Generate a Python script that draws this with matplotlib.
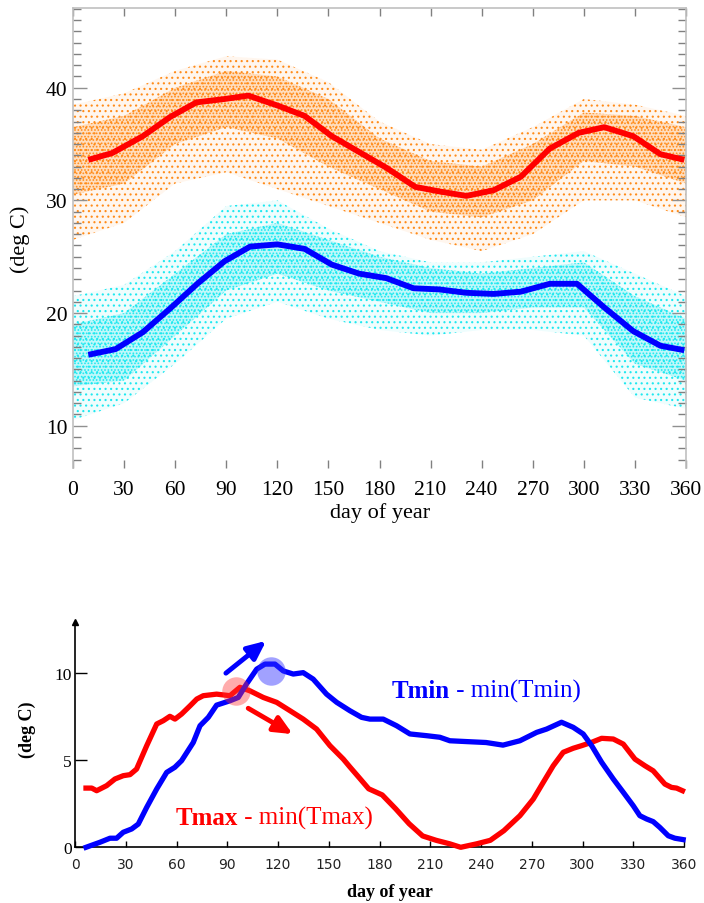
import matplotlib
matplotlib.use("Agg")
import matplotlib.pyplot as plt
from matplotlib.ticker import MultipleLocator

plt.rcParams['font.family'] = ['Liberation Serif', 'DejaVu Serif']
plt.rcParams['hatch.linewidth'] = 0.8

# ---------------- top panel data ----------------
tmax_days = [9, 23, 41, 57, 72.5, 89, 103, 120.5, 136, 152, 168, 184, 201, 215, 231,
             247, 263, 280, 297, 312, 329, 345, 359]
tmax_mean = [33.6, 34.2, 35.7, 37.4, 38.7, 39.0, 39.3, 38.4, 37.5, 35.7, 34.3, 32.9,
             31.2, 30.8, 30.4, 30.9, 32.1, 34.6, 36.0, 36.5, 35.7, 34.1, 33.6]

tmin_days = [9, 25, 41, 57, 73, 89, 104, 120, 136, 152, 168, 184, 200, 215, 231,
             247, 263, 280, 296, 312, 329, 345, 359]
tmin_mean = [16.3, 16.8, 18.3, 20.4, 22.6, 24.6, 25.9, 26.1, 25.7, 24.3, 23.5, 23.1,
             22.2, 22.1, 21.8, 21.7, 21.9, 22.6, 22.6, 20.5, 18.4, 17.1, 16.7]

# envelopes of the daily scatter clouds
env_days = [0, 30, 60, 90, 120, 150, 180, 210, 240, 270, 300, 330, 360]
tmax_hi_outer = [38.5, 39.5, 41.5, 42.8, 42.5, 40.5, 37.0, 35.0, 34.5, 36.5, 39.0, 38.5, 37.5]
tmax_lo_outer = [26.5, 28.0, 31.5, 32.5, 31.0, 29.5, 28.0, 26.5, 25.5, 27.0, 30.0, 30.0, 28.5]
tmax_hi_core = [36.5, 37.5, 40.0, 41.5, 41.0, 39.0, 35.5, 33.5, 33.0, 35.0, 37.8, 37.5, 36.5]
tmax_lo_core = [30.5, 31.5, 35.0, 36.5, 35.5, 33.0, 31.0, 29.0, 28.5, 30.0, 33.5, 33.0, 31.5]
tmin_hi_outer = [21.5, 22.5, 25.5, 29.5, 30.0, 27.5, 25.5, 24.5, 24.5, 25.0, 25.5, 23.5, 21.5]
tmin_lo_outer = [10.5, 12.0, 15.5, 19.5, 21.0, 19.5, 18.5, 18.0, 18.5, 18.5, 18.0, 12.5, 11.5]
tmin_hi_core = [19.0, 20.0, 23.5, 27.0, 28.0, 26.5, 25.0, 24.0, 23.5, 24.0, 24.5, 21.5, 19.5]
tmin_lo_core = [13.5, 14.0, 18.0, 22.0, 23.5, 22.0, 21.0, 20.0, 20.0, 20.5, 20.5, 15.5, 14.0]

# ---------------- bottom panel data ----------------
dmin_days = [6.5, 14.8, 20.7, 24.6, 28.5, 33.5, 37.4, 42.4, 48.3, 54.2, 59, 63, 69.9, 73.9,
             78.8, 83.7, 91.6, 96.5, 101.4, 107.4, 112.3, 118.2, 123.1, 129, 134.9, 140.8,
             148.7, 154.7, 162.5, 169.4, 174.3, 182.2, 190.1, 198, 207.9, 215.7, 221.6,
             232, 243, 253, 263, 272.9, 278.8, 287.6, 294.5, 300.4, 305.4, 311.3, 318.2,
             324.1, 330, 333.9, 337.9, 341.8, 345.7, 350.7, 354.6, 359.5]
dmin_vals = [0.0, 0.29, 0.52, 0.52, 0.86, 1.05, 1.33, 2.29, 3.34, 4.29, 4.58, 4.96, 6.0, 6.96,
             7.44, 8.14, 8.39, 8.58, 9.35, 10.2, 10.49, 10.49, 10.1, 9.92, 10.0, 9.63,
             8.77, 8.3, 7.82, 7.44, 7.34, 7.34, 6.96, 6.49, 6.39, 6.3, 6.1,
             6.05, 6.0, 5.85, 6.1, 6.58, 6.77, 7.16, 6.87, 6.49, 5.82, 4.87, 3.91,
             3.15, 2.38, 1.81, 1.62, 1.47, 1.14, 0.66, 0.52, 0.44]

dmax_days = [6.5, 9.9, 12.8, 18.7, 23.6, 28.5, 32.5, 36.4, 42.4, 48.3, 52.2, 56.1, 59.1, 63,
             68, 72, 75.8, 83.7, 91.6, 97.5, 103.4, 111.3, 119.2, 127.1, 134.9, 142.8,
             150.7, 158.6, 162.5, 168.3, 173.6, 181.6, 189.6, 197.5, 205.5, 213.5, 221.5,
             228, 237.5, 245.5, 253.5, 263, 270.9, 276.8, 282.7, 288.6, 294.5, 299.5,
             305.4, 311.3, 318.2, 324.1, 331, 336.9, 341.8, 348.7, 352.6, 355.6, 359.1]
dmax_vals = [3.39, 3.39, 3.24, 3.53, 3.91, 4.1, 4.16, 4.48, 5.82, 7.06, 7.25, 7.5, 7.34, 7.63,
             8.1, 8.49, 8.68, 8.77, 8.68, 9.16, 8.96, 8.58, 8.3, 7.82, 7.34, 6.77,
             5.82, 5.05, 4.6, 3.95, 3.35, 3.0, 2.2, 1.35, 0.65, 0.4, 0.2,
             0.0, 0.2, 0.4, 0.95, 1.81, 2.76, 3.72, 4.67, 5.44, 5.67, 5.82,
             6.01, 6.24, 6.2, 5.91, 5.05, 4.67, 4.38, 3.62, 3.43, 3.39, 3.24]

peak_min = (116, 10.1)
peak_max = (95.2, 8.96)
arrow_min = ((89.2, 9.97), (113, 11.82))
arrow_max = ((102.4, 7.96), (128.7, 6.48))

xticks = list(range(0, 361, 30))

ORANGE = '#ff8c1a'
CYAN = '#1ee8f0'

W, H = 704, 904
fig = plt.figure(figsize=(W / 100, H / 100), dpi=100)

# ================= top panel =================
ax1 = fig.add_axes([73 / W, 1 - 469 / H, (686 - 73) / W, (469 - 9.3) / H])
ax1.set_xlim(0, 360)
ax1.set_ylim(6.25, 47.05)

for lo, hi, col, a, h in [
        (tmax_lo_outer, tmax_hi_outer, ORANGE, 0.07, '...'),
        (tmax_lo_core, tmax_hi_core, ORANGE, 0.22, '.....'),
        (tmin_lo_outer, tmin_hi_outer, CYAN, 0.07, '...'),
        (tmin_lo_core, tmin_hi_core, CYAN, 0.22, '.....')]:
    ax1.fill_between(env_days, lo, hi, facecolor=(*matplotlib.colors.to_rgb(col), a),
                     edgecolor=col, hatch=h, linewidth=0, zorder=1)

ax1.plot(tmax_days, tmax_mean, color='#ff0000', lw=4.2, solid_capstyle='butt', zorder=3)
ax1.plot(tmin_days, tmin_mean, color='#0000ff', lw=4.2, solid_capstyle='butt', zorder=3)

for s in ['left', 'right', 'top']:
    ax1.spines[s].set_color('#c0c0c0')
    ax1.spines[s].set_linewidth(1.2)
ax1.spines['bottom'].set_visible(False)

ax1.set_xticks(xticks)
ax1.set_yticks([10, 20, 30, 40])
ax1.yaxis.set_minor_locator(MultipleLocator(1))
ax1.tick_params(axis='x', which='major', direction='in', length=6, width=1,
                color='#808080', top=True, labelsize=15.5, pad=9)
ax1.tick_params(axis='y', which='major', direction='in', length=10, width=1,
                color='#909090', right=True, labelsize=15.5, pad=4)
ax1.tick_params(axis='y', which='minor', direction='in', length=5.5, width=1,
                color='#808080', right=True)

fig.text(20 / W, 1 - 239 / H, '(deg C)', rotation=90, ha='center', va='center', fontsize=16)
fig.text(380 / W, 1 - 513 / H, 'day of year', ha='center', va='center', fontsize=16)

# ================= bottom panel =================
ax2 = fig.add_axes([75 / W, 1 - 848.3 / H, (684 - 75) / W, (848.3 - 623) / H])
ax2.set_xlim(0, 360)
ax2.set_ylim(0, 12.9)

ax2.plot(dmax_days, dmax_vals, color='#ff0000', lw=3.8, clip_on=False, zorder=3)
ax2.plot(dmin_days, dmin_vals, color='#0000ff', lw=3.8, clip_on=False, zorder=3)

ax2.scatter([peak_max[0]], [peak_max[1]], s=420, color='#ff3030', alpha=0.4,
            linewidths=0, zorder=4)
ax2.scatter([peak_min[0]], [peak_min[1]], s=420, color='#3030ff', alpha=0.45,
            linewidths=0, zorder=4)

for (start, end), col in [(arrow_min, '#0000ff'), (arrow_max, '#ff0000')]:
    ax2.annotate('', xy=end, xytext=start,
                 arrowprops=dict(arrowstyle='-|>,head_length=0.55,head_width=0.25',
                                 color=col, lw=3.5, shrinkA=0, shrinkB=0,
                                 mutation_scale=20), zorder=5)

for s in ['top', 'right']:
    ax2.spines[s].set_visible(False)
for s in ['left', 'bottom']:
    ax2.spines[s].set_color('black')
    ax2.spines[s].set_linewidth(1.2)
ax2.plot([0], [1], marker='^', color='black', markersize=5,
         transform=ax2.transAxes, clip_on=False)

ax2.set_xticks(xticks)
ax2.set_yticks([0, 5, 10])
ax2.tick_params(axis='x', direction='in', length=4.5, width=1, color='black', pad=7,
                labelsize=10, labelcolor='#222222')
ax2.tick_params(axis='y', direction='in', length=8.5, width=1, color='black', pad=2.5,
                labelsize=12.5)
for lab in ax2.get_xticklabels():
    lab.set_family(['Liberation Sans Narrow', 'DejaVu Sans'])

t1 = ax2.text(187.2, 8.59, 'Tmin', color='#0000ff', fontsize=18, fontweight='bold',
              va='baseline', ha='left')
ax2.annotate(' - min(Tmin)', xy=(1, 0), xycoords=t1, va='bottom', ha='left',
             color='#0000ff', fontsize=18)
t2 = ax2.text(59.7, 1.33, 'Tmax', color='#ff0000', fontsize=18, fontweight='bold',
              va='baseline', ha='left')
ax2.annotate(' - min(Tmax)', xy=(1, 0), xycoords=t2, va='bottom', ha='left',
             color='#ff0000', fontsize=18)

fig.text(27 / W, 1 - 730 / H, '(deg C)', rotation=90, ha='center', va='center',
         fontsize=13, fontweight='bold')
fig.text(390 / W, 1 - 893 / H, 'day of year', ha='center', va='center',
         fontsize=13, fontweight='bold')

fig.savefig('out.png', dpi=100)
